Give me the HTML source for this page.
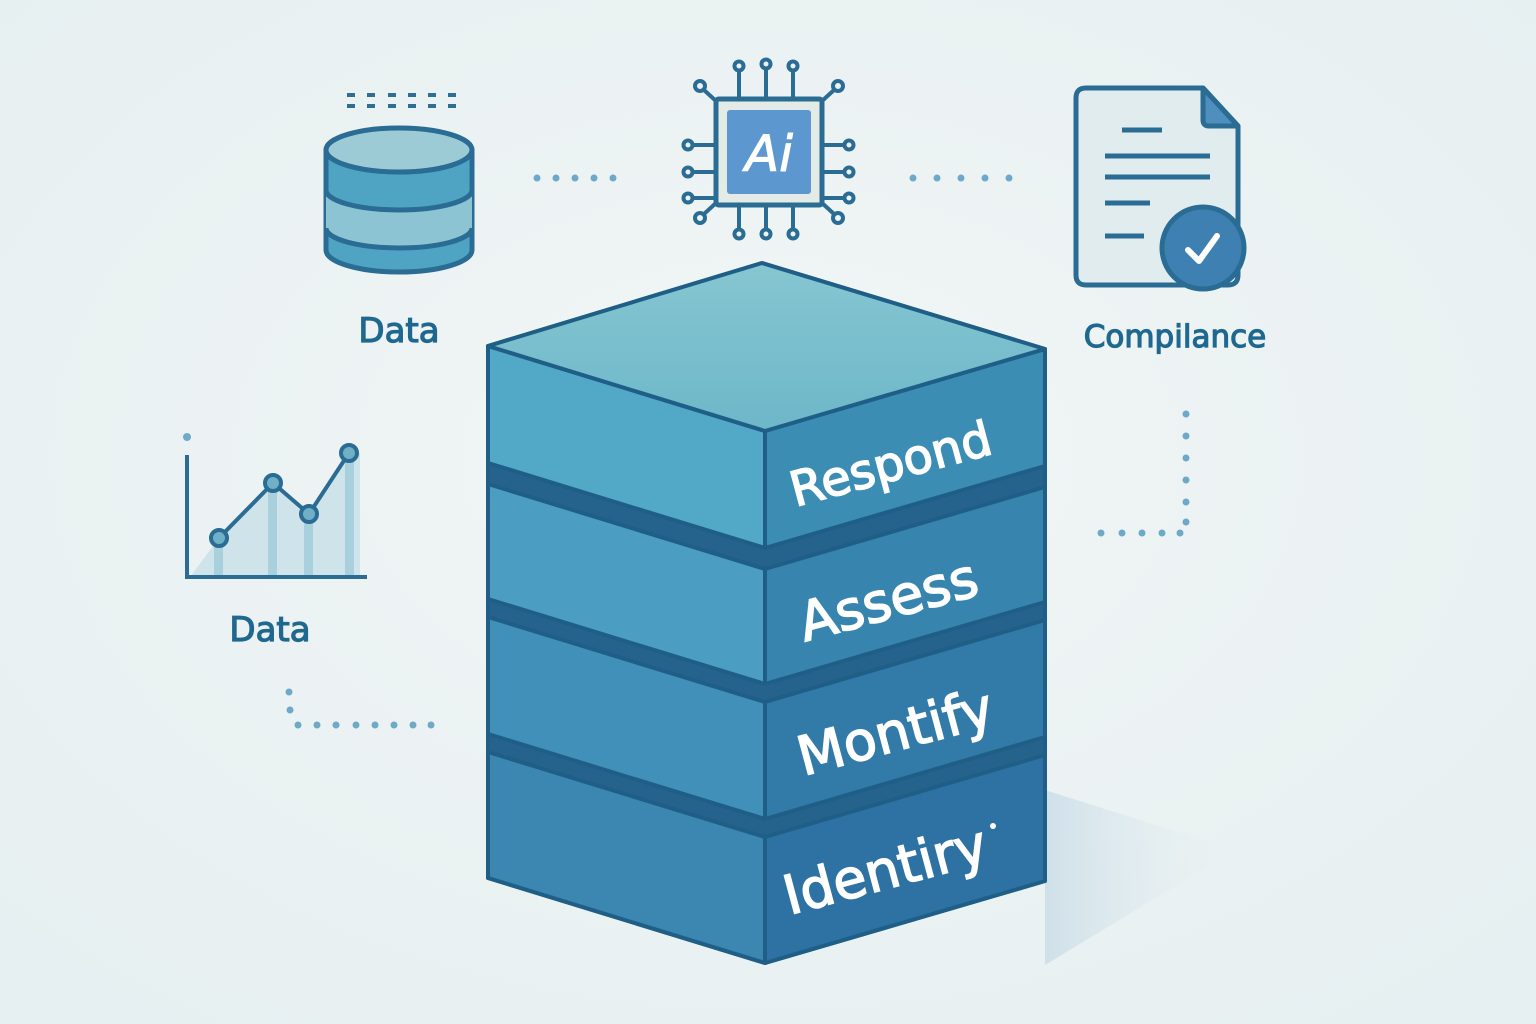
<!DOCTYPE html>
<html><head><meta charset="utf-8"><style>
html,body{margin:0;padding:0;width:1536px;height:1024px;overflow:hidden;background:#eef4f4;}
svg{display:block;}
text{font-family:"DejaVu Sans","Liberation Sans",sans-serif;}
</style></head><body>
<svg width="1536" height="1024" viewBox="0 0 1536 1024" xmlns="http://www.w3.org/2000/svg">
<defs>
<radialGradient id="bg" cx="0.5" cy="0.45" r="0.7"><stop offset="0" stop-color="#f2f6f5"/><stop offset="1" stop-color="#e6eff1"/></radialGradient>
<linearGradient id="top" x1="0" y1="0" x2="0" y2="1"><stop offset="0" stop-color="#86c6d1"/><stop offset="1" stop-color="#6db7c9"/></linearGradient>
<linearGradient id="sh" x1="0" y1="0" x2="1" y2="0"><stop offset="0" stop-color="#cfe0e9"/><stop offset="1" stop-color="#e6eff1" stop-opacity="0"/></linearGradient>
</defs>
<rect width="1536" height="1024" fill="url(#bg)"/>
<!-- shadow -->
<polygon points="1045,790 1235,850 1045,965" fill="url(#sh)"/>

<!-- database -->
<g stroke="#2a6c93" stroke-width="5" stroke-linejoin="round">
<path d="M326,150 V250 A73,22 0 0 0 472,250 V150 Z" fill="#4fa4c4"/>
<path d="M326,190 A73,20 0 0 0 472,190 V228 A73,20 0 0 1 326,228 Z" fill="#8cc4d4" stroke="none"/>
<path d="M326,190 A73,20 0 0 0 472,190" fill="none"/>
<path d="M326,228 A73,20 0 0 0 472,228" fill="none"/>
<ellipse cx="399" cy="150" rx="73" ry="22" fill="#9ccbd6"/>
</g>
<g fill="#2f6f95">
<rect x="347" y="93" width="8" height="4"/><rect x="367" y="93" width="8" height="4"/><rect x="388" y="93" width="8" height="4"/><rect x="408" y="93" width="8" height="4"/><rect x="428" y="93" width="8" height="4"/><rect x="448" y="93" width="8" height="4"/>
<rect x="347" y="104" width="8" height="4"/><rect x="367" y="104" width="8" height="4"/><rect x="388" y="104" width="8" height="4"/><rect x="408" y="104" width="8" height="4"/><rect x="428" y="104" width="8" height="4"/><rect x="448" y="104" width="8" height="4"/>
</g>
<text x="399" y="342" font-size="34" fill="#1f6890" stroke="#1f6890" stroke-width="1.2" text-anchor="middle">Data</text>

<!-- dots -->
<g fill="#6fa9c9">
<circle cx="537" cy="178" r="3.5"/><circle cx="556" cy="178" r="3.5"/><circle cx="575" cy="178" r="3.5"/><circle cx="594" cy="178" r="3.5"/><circle cx="613" cy="178" r="3.5"/>
<circle cx="913" cy="178" r="3.5"/><circle cx="937" cy="178" r="3.5"/><circle cx="961" cy="178" r="3.5"/><circle cx="985" cy="178" r="3.5"/><circle cx="1009" cy="178" r="3.5"/>
<circle cx="1186" cy="414" r="3.5"/><circle cx="1186" cy="436" r="3.5"/><circle cx="1186" cy="458" r="3.5"/><circle cx="1186" cy="480" r="3.5"/><circle cx="1186" cy="502" r="3.5"/><circle cx="1186" cy="522" r="3.5"/>
<circle cx="1101" cy="533" r="3.5"/><circle cx="1122" cy="533" r="3.5"/><circle cx="1142" cy="533" r="3.5"/><circle cx="1162" cy="533" r="3.5"/><circle cx="1180" cy="533" r="3.5"/>
<circle cx="289" cy="692" r="3.5"/><circle cx="290" cy="710" r="3.5"/>
<circle cx="298" cy="725" r="3.5"/><circle cx="317" cy="725" r="3.5"/><circle cx="336" cy="725" r="3.5"/><circle cx="356" cy="725" r="3.5"/><circle cx="375" cy="725" r="3.5"/><circle cx="394" cy="725" r="3.5"/><circle cx="413" cy="725" r="3.5"/><circle cx="431" cy="725" r="3.5"/>
</g>

<!-- chip -->
<g stroke="#2a6c93" stroke-width="4" fill="none">
<line x1="739" y1="97" x2="739" y2="70"/><line x1="766" y1="97" x2="766" y2="68"/><line x1="793" y1="97" x2="793" y2="70"/>
<line x1="739" y1="207" x2="739" y2="230"/><line x1="766" y1="207" x2="766" y2="230"/><line x1="793" y1="207" x2="793" y2="230"/>
<line x1="716" y1="145" x2="692" y2="145"/><line x1="716" y1="172" x2="692" y2="172"/><line x1="716" y1="198" x2="692" y2="198"/>
<line x1="822" y1="145" x2="845" y2="145"/><line x1="822" y1="172" x2="845" y2="172"/><line x1="822" y1="198" x2="845" y2="198"/>
<line x1="716" y1="101" x2="704" y2="90"/><line x1="822" y1="101" x2="834" y2="90"/><line x1="716" y1="203" x2="704" y2="214"/><line x1="822" y1="203" x2="834" y2="214"/>
<circle cx="739" cy="66" r="4.5"/><circle cx="766" cy="64" r="4.5"/><circle cx="793" cy="66" r="4.5"/>
<circle cx="739" cy="234" r="4.5"/><circle cx="766" cy="234" r="4.5"/><circle cx="793" cy="234" r="4.5"/>
<circle cx="688" cy="145" r="4.5"/><circle cx="688" cy="172" r="4.5"/><circle cx="688" cy="198" r="4.5"/>
<circle cx="849" cy="145" r="4.5"/><circle cx="849" cy="172" r="4.5"/><circle cx="849" cy="198" r="4.5"/>
<circle cx="700" cy="86" r="5"/><circle cx="838" cy="86" r="5"/><circle cx="700" cy="218" r="5"/><circle cx="838" cy="218" r="5"/>
<rect x="716" y="99" width="106" height="106" rx="3" fill="#e3ebe6" stroke-width="5"/>
</g>
<rect x="727" y="110" width="84" height="84" rx="3" fill="#5d97cf"/>
<text x="769" y="171" font-size="50" font-style="italic" fill="#fff" stroke="#fff" stroke-width="1" text-anchor="middle">Ai</text>

<!-- document -->
<g stroke="#2a6c93" stroke-width="5" stroke-linejoin="round">
<path d="M1086,88 H1203 L1238,126 V275 Q1238,285 1228,285 H1086 Q1076,285 1076,275 V98 Q1076,88 1086,88 Z" fill="#e1ecee"/>
<path d="M1203,88 V120 Q1203,126 1209,126 H1238 Z" fill="#4f8fbf"/>
<line x1="1122" y1="130" x2="1162" y2="130"/><line x1="1105" y1="156" x2="1210" y2="156"/><line x1="1105" y1="177" x2="1210" y2="177"/><line x1="1105" y1="203" x2="1150" y2="203"/><line x1="1105" y1="236" x2="1144" y2="236"/>
<circle cx="1203" cy="248" r="41" fill="#3f80b2"/>
</g>
<path d="M1188,250 L1199,261 L1217,236" stroke="#fff" stroke-width="6" fill="none" stroke-linecap="round" stroke-linejoin="round"/>
<text x="1175" y="347" font-size="31" fill="#1f6890" stroke="#1f6890" stroke-width="1.2" text-anchor="middle">Compilance</text>

<!-- chart -->
<polygon points="190,577 219,538 273,483 309,514 349,453 360,453 360,577" fill="#cfe3ea"/>
<g fill="#a9d0dd"><rect x="214" y="538" width="9" height="39"/><rect x="268" y="483" width="9" height="94"/><rect x="304" y="514" width="9" height="63"/><rect x="345" y="453" width="9" height="124"/></g>
<g stroke="#2a6c93" stroke-width="4" fill="none">
<line x1="187" y1="455" x2="187" y2="578"/><line x1="185" y1="577" x2="367" y2="577"/>
<polyline points="219,538 273,483 309,514 349,453"/>
</g>
<circle cx="187" cy="437" r="4" fill="#6fa9c9"/>
<g stroke="#2a6c93" stroke-width="4" fill="#6fb0c6"><circle cx="219" cy="538" r="8"/><circle cx="273" cy="483" r="8"/><circle cx="309" cy="514" r="8"/><circle cx="349" cy="453" r="8"/></g>
<text x="270" y="641" font-size="34" fill="#1f6890" stroke="#1f6890" stroke-width="1.2" text-anchor="middle">Data</text>

<!-- stack -->
<polygon points="488,346 762,263 1045,349 1045,881 765,963 488,878" fill="#25638d" stroke="#1f5f87" stroke-width="4" stroke-linejoin="round"/>
<g stroke="#1f5f87" stroke-width="4" stroke-linejoin="round">
<!-- slab 4 -->
<polygon points="488,752 765,837 765,963 488,878" fill="#3b87b2"/>
<polygon points="765,837 1045,755 1045,881 765,963" fill="#2d72a2"/>
<!-- slab 3 -->
<polygon points="488,617 765,702 765,819 488,734" fill="#4190b9"/>
<polygon points="765,702 1045,620 1045,737 765,819" fill="#327ba8"/>
<!-- slab 2 -->
<polygon points="488,484 765,569 765,684 488,599" fill="#4b9ec2"/>
<polygon points="765,569 1045,487 1045,602 765,684" fill="#3785af"/>
<!-- slab 1 -->
<polygon points="488,346 765,431 765,548 488,463" fill="#52a8c7"/>
<polygon points="765,431 1045,349 1045,466 765,548" fill="#3b8db4"/>
<polygon points="488,346 762,263 1045,349 765,431" fill="url(#top)"/>
</g>
<g fill="#fff" stroke="#fff" stroke-width="1.5" font-size="48" text-anchor="middle">
<text transform="translate(895,480) rotate(-15)">Respond</text>
<text transform="translate(893,618) rotate(-15)" font-size="54">Assess</text>
<text transform="translate(900,750) rotate(-15)" font-size="54">Montify</text>
<text transform="translate(890,888) rotate(-15)" font-size="54">Identiry</text>
</g>
<circle cx="993" cy="826" r="3" fill="#fff"/>
</svg>
</body></html>
